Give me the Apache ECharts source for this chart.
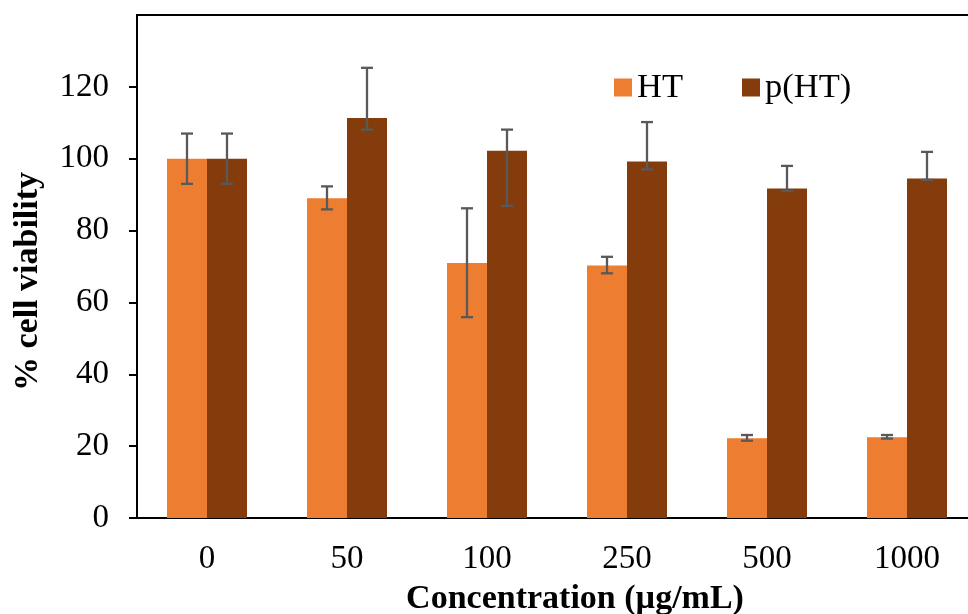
<!DOCTYPE html>
<html>
<head>
<meta charset="utf-8">
<script src="https://cdn.jsdelivr.net/npm/echarts@6/dist/echarts.min.js"></script>
<style>
  html, body { margin: 0; padding: 0; background: #fff; }
  #main { width: 968px; height: 614px; }
</style>
</head>
<body>
<div id="main"></div>
<script>
// data
var categories = ['0', '50', '100', '250', '500', '1000'];
var htValues = [100, 89, 71, 70.3, 22.2, 22.5];
var htErrUp = [7, 3.3, 15.2, 2.4, 0.9, 0.6];
var htErrDown = [7, 3.1, 15.1, 2.2, 0.7, 0.4];
var phtValues = [100, 111.3, 102.2, 99.2, 91.7, 94.5];
var phtErrUp = [7, 14, 5.9, 11, 6.3, 7.4];
var phtErrDown = [7, 3.2, 15.3, 2.2, 0.7, 0.4];
var yTicks = [0, 20, 40, 60, 80, 100, 120];

var chartDom = document.getElementById('main');
var myChart = echarts.init(chartDom);
var option;

var font = 'Liberation Serif';
var barW = 40;

function errorSeries(name, values, up, down, side) {
  var data = values.map(function (v, i) {
    return [i, v - down[i], v + up[i]];
  });
  return {
    type: 'custom',
    name: name,
    data: data,
    z: 10,
    renderItem: function (params, api) {
      var lo = api.coord([api.value(0), api.value(1)]);
      var hi = api.coord([api.value(0), api.value(2)]);
      var x = lo[0] + side * barW / 2;
      var cap = 6;
      var style = { stroke: '#595959', lineWidth: 2.3 };
      return {
        type: 'group',
        children: [
          { type: 'line', shape: { x1: x, y1: hi[1], x2: x, y2: lo[1] }, style: style },
          { type: 'line', shape: { x1: x - cap, y1: hi[1], x2: x + cap, y2: hi[1] }, style: style },
          { type: 'line', shape: { x1: x - cap, y1: lo[1], x2: x + cap, y2: lo[1] }, style: style }
        ]
      };
    },
    silent: true
  };
}

option = {
  animation: false,
  grid: {
    left: 137,
    right: -9,
    top: 15,
    bottom: 96,
    outerBoundsMode: 'none',
    containLabel: false,
    show: true,
    borderColor: '#000',
    borderWidth: 2
  },
  legend: {
    data: ['HT', 'p(HT)'],
    left: 614,
    top: 70,
    padding: 0,
    itemWidth: 18,
    itemHeight: 18,
    itemGap: 59,
    icon: 'rect',
    textStyle: { fontFamily: font, fontSize: 34.5, color: '#000' }
  },
  xAxis: {
    type: 'category',
    data: categories,
    axisLine: { lineStyle: { color: '#000', width: 2 } },
    axisTick: { show: false },
    axisLabel: { fontFamily: font, fontSize: 33, color: '#000', margin: 25 },
    name: 'Concentration (µg/mL)',
    nameLocation: 'middle',
    nameGap: 64,
    nameTextStyle: { fontFamily: font, fontSize: 34, fontWeight: 'bold', color: '#000', padding: [0, 0, 0, 36] }
  },
  yAxis: {
    type: 'value',
    min: 0,
    max: 140,
    interval: 20,
    splitLine: { show: false },
    axisLine: { show: true, lineStyle: { color: '#000', width: 2 } },
    axisTick: { show: true, length: 8, lineStyle: { color: '#000', width: 2 }, customValues: yTicks },
    axisLabel: { fontFamily: font, fontSize: 33, color: '#000', margin: 28, customValues: yTicks },
    name: '% cell viability',
    nameLocation: 'middle',
    nameGap: 92,
    nameTextStyle: { fontFamily: font, fontSize: 34, fontWeight: 'bold', color: '#000', padding: [0, 30, 0, 0] }
  },
  series: [
    {
      name: 'HT',
      type: 'bar',
      data: htValues,
      barWidth: barW,
      barGap: '0%',
      itemStyle: { color: '#ED7D31' }
    },
    {
      name: 'p(HT)',
      type: 'bar',
      data: phtValues,
      barWidth: barW,
      barGap: '0%',
      itemStyle: { color: '#843C0C' }
    },
    errorSeries('HT', htValues, htErrUp, htErrDown, -1),
    errorSeries('p(HT)', phtValues, phtErrUp, phtErrDown, 1)
  ]
};

option && myChart.setOption(option);
</script>
</body>
</html>
